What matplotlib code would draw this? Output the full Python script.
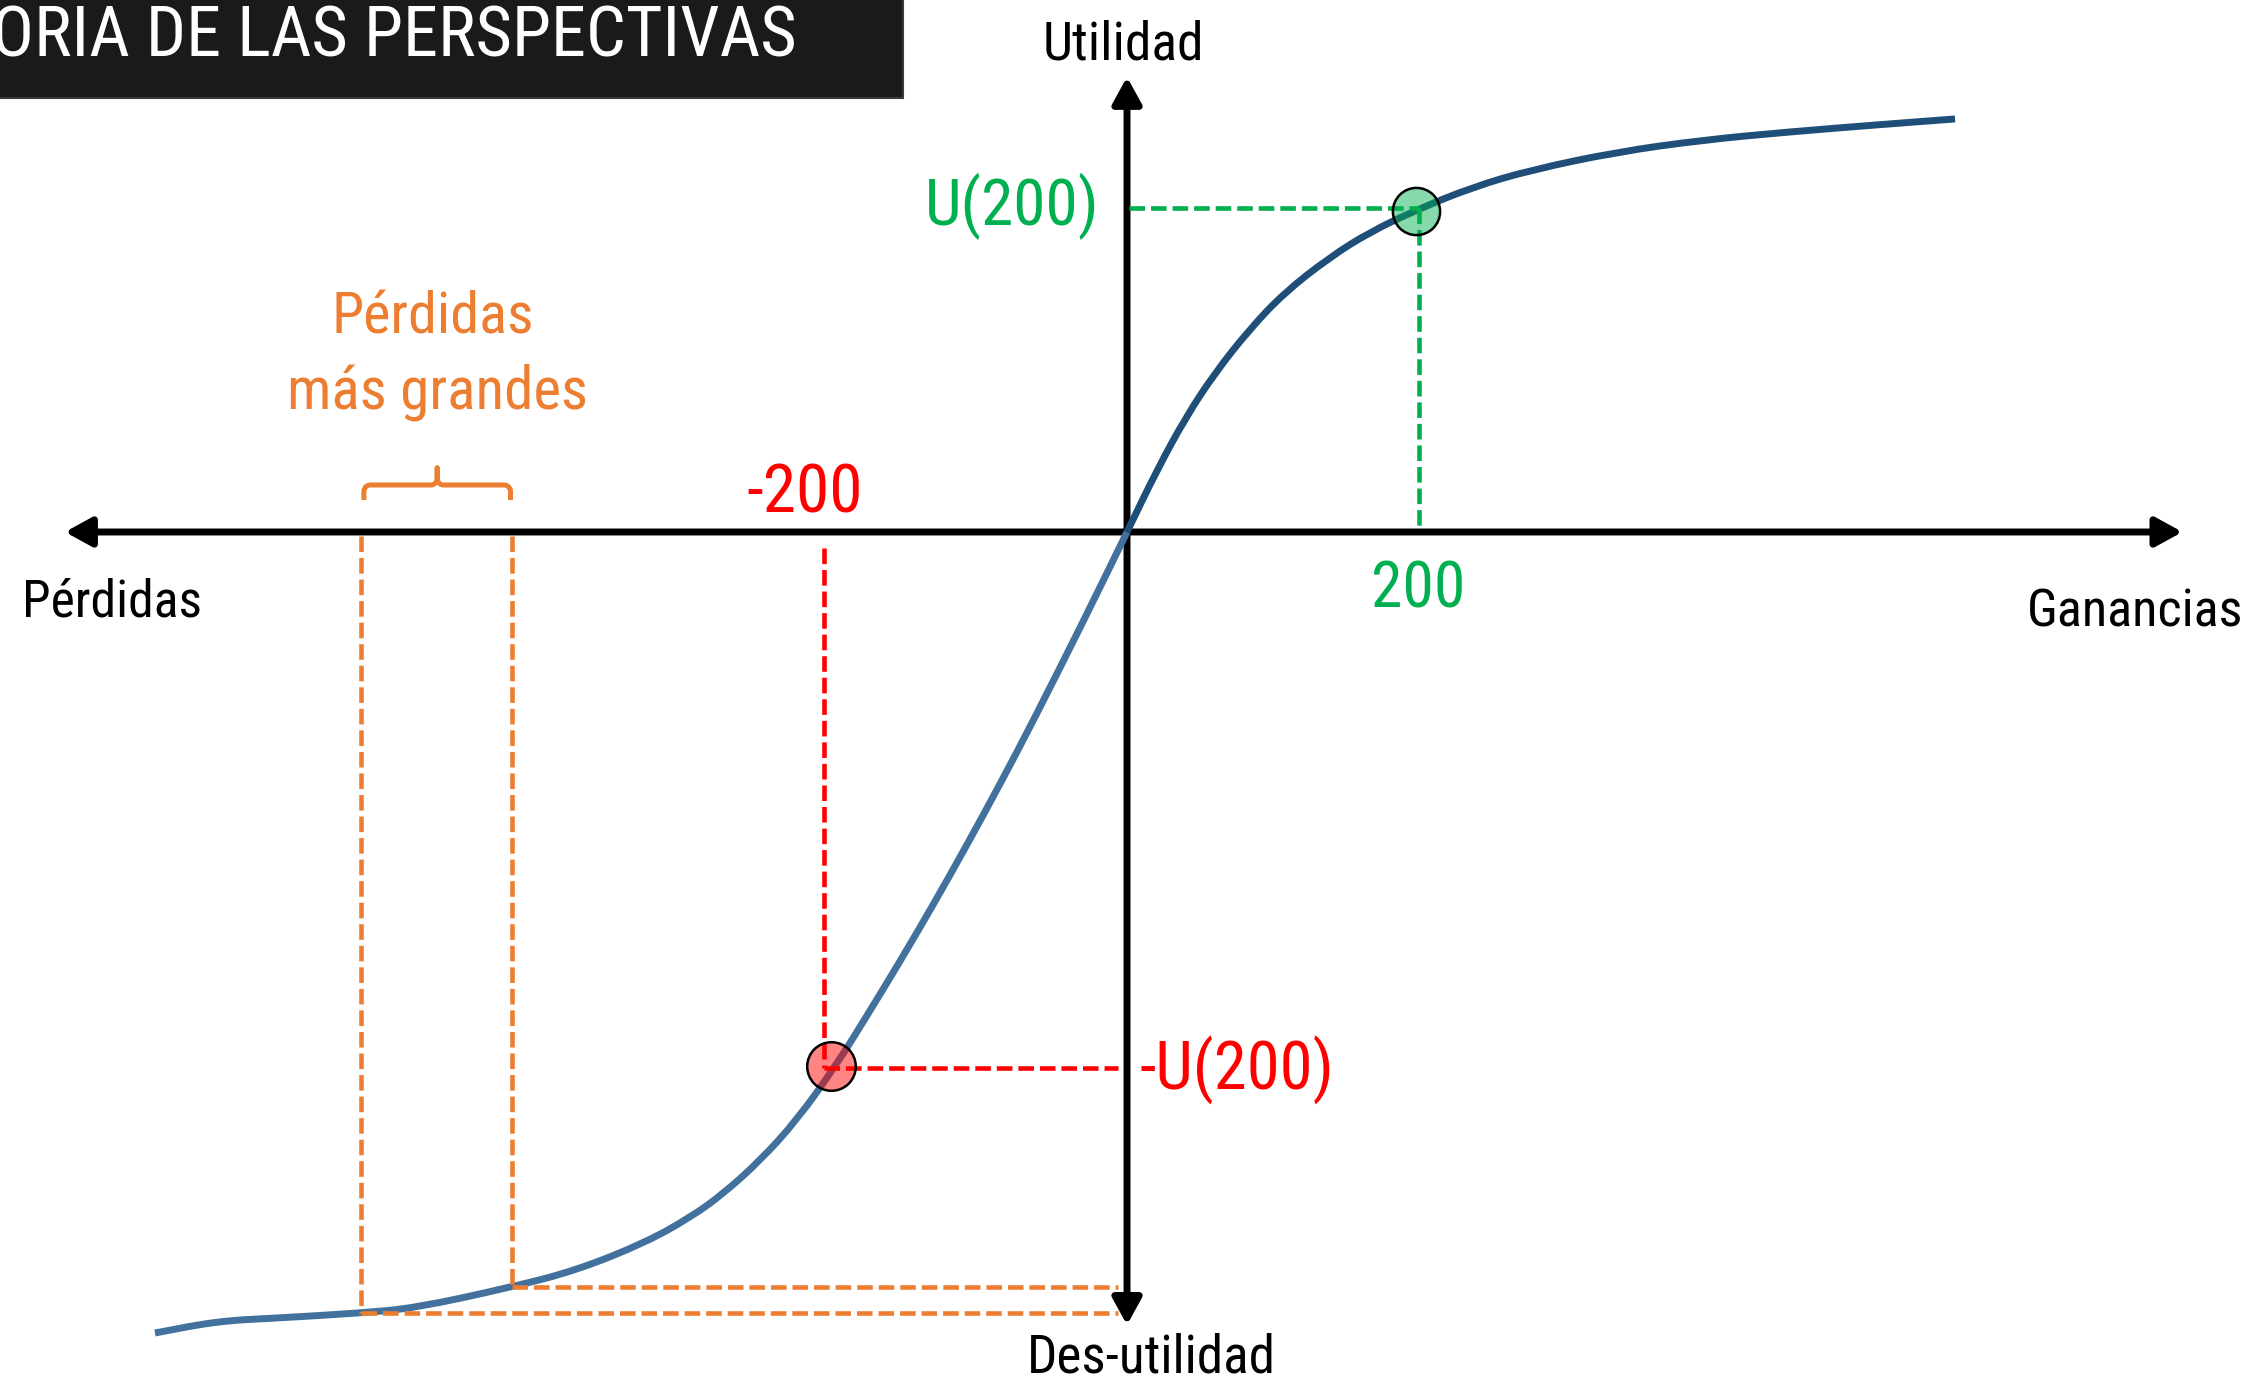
import os
import matplotlib
matplotlib.use("Agg")
import matplotlib.pyplot as plt
import matplotlib.font_manager as fm
from matplotlib.path import Path
from matplotlib.patches import PathPatch
import numpy as np

# ---------------- data ----------------
# value function (x: losses/gains, y: utility)
loss_x = [-674.2, -630.5, -588.9, -531.3, -493.9, -426.6, -382.2, -334.3, -302.4, -280.2,
          -254.6, -228.9, -201.8, -180.3, -157.5, -134.6, -111.0, -88.1, -65.2, -30.5, 0.0]
loss_y = [-555.6, -547.3, -545.2, -541.7, -538.3, -523.7, -512.2, -493.0, -475.1, -459.1,
          -436.1, -407.8, -369.9, -335.4, -297.9, -258.9, -217.0, -174.9, -131.3, -62.4, 0.0]
gain_x = [0.0, 20.8, 40.9, 61.0, 84.6, 108.9, 140.8, 168.6, 200.5, 240.0, 280.2, 339.9,
          399.5, 459.2, 518.8, 574.3]
gain_y = [0.0, 43.0, 79.8, 110.3, 140.1, 165.8, 190.7, 208.1, 223.3, 239.3, 251.1, 263.6,
          271.9, 277.5, 282.3, 286.5]

gain_pt = (200.6, 222.9)        # U(200)
gain_guide = (202.7, 224.5)
loss_pt = (-205.5, -370.4)      # -U(200)
loss_guide = (-210.2, -371.7)
big_losses_x = [-531.3, -426.6]
big_losses_y = [-541.7, -523.7]

title = "TEORIA DE LAS PERSPECTIVAS"
title_visible = "ORIA DE LAS PERSPECTIVAS"

GREEN = "#00B050"
RED = "#FF0000"
ORANGE = "#ED7D31"


# ---------------- font (narrow face if available) ----------------
def pick_font():
    bad = ('bold', 'italic', 'oblique', 'light', 'thin', 'black', 'medium', 'semi', 'extra', 'ultra', 'heavy')
    prefs = ['liberation sans narrow', 'arial narrow', 'roboto condensed', 'noto sans',
             'open sans', 'dejavu sans', '']
    found = []
    for f in fm.fontManager.ttflist:
        name = f.name.lower()
        fn = os.path.basename(f.fname).lower()
        narrow = ('narrow' in name or 'condensed' in name or 'narrow' in fn or 'condensed' in fn
                  or f.stretch == 'condensed')
        if not narrow or f.style != 'normal':
            continue
        if any(b in fn.replace('condensed', '').replace('narrow', '') for b in bad):
            continue
        for rank, p in enumerate(prefs):
            if p in name:
                found.append((rank, f.fname))
                break
    if found:
        found.sort()
        return fm.FontProperties(fname=found[0][1])
    return fm.FontProperties(family=['Liberation Sans', 'DejaVu Sans'])


FP = pick_font()

# ---------------- figure ----------------
fig = plt.figure(figsize=(22.49, 13.8), dpi=100)
ax = fig.add_axes([0, 0, 1, 1])
ax.set_xlim(-781.7, 778.2)
ax.set_ylim(-588.2, 369.0)
ax.axis('off')
renderer = fig.canvas.get_renderer()


def fit_text(x, y, s, target_px, nominal, measure=None, boost=1.07, **kw):
    t = ax.text(x, y, s, fontproperties=FP.copy(), **kw)
    m = t if measure is None else ax.text(0, 0, measure, fontproperties=FP.copy())
    m.set_fontsize(nominal)
    w = m.get_window_extent(renderer).width
    size = min(nominal * target_px / w * boost, nominal)
    t.set_fontsize(size)
    if measure is not None:
        m.remove()
    return t


# title box
ax.add_patch(plt.Rectangle((-795, 301), 639.6, 90, facecolor="#1A1A1A", edgecolor="#3a3a3a",
                           lw=1.5, zorder=5))
fit_text(-228.9, 329.7, title, 805, 57, measure=title_visible, boost=1.0, color='white',
         ha='right', va='baseline', zorder=6)

# axes arrows
arrow_kw = dict(arrowstyle='<|-|>,head_length=1.0,head_width=0.55', mutation_scale=16,
                lw=5.0, color='black', shrinkA=0, shrinkB=0)
ax.annotate('', xy=(732, 0), xytext=(-736.6, 0), arrowprops=arrow_kw, zorder=3)
ax.annotate('', xy=(0, 315.6), xytext=(0, -550), arrowprops=arrow_kw, zorder=3)


# curve (quadratic smoothing through the read points)
def smooth_path(xs, ys):
    p = np.c_[xs, ys]
    verts = [p[0], (p[0] + p[1]) / 2]
    codes = [Path.MOVETO, Path.LINETO]
    for i in range(1, len(p) - 1):
        verts += [p[i], (p[i] + p[i + 1]) / 2]
        codes += [Path.CURVE3, Path.CURVE3]
    verts.append(p[-1])
    codes.append(Path.LINETO)
    return Path(verts, codes)


ax.add_patch(PathPatch(smooth_path(loss_x, loss_y), fill=False, edgecolor="#41719C", lw=5.0,
                       capstyle='butt', zorder=4))
ax.add_patch(PathPatch(smooth_path(gain_x, gain_y), fill=False, edgecolor="#1F4E79", lw=5.0,
                       capstyle='butt', zorder=4))

dash = (0, (3.4, 1.3))
glw = 3.3
# green guides
ax.plot([1.5, gain_guide[0]], [gain_guide[1], gain_guide[1]], color=GREEN, lw=glw, ls=dash, zorder=4.5)
ax.plot([gain_guide[0], gain_guide[0]], [gain_guide[1], 2], color=GREEN, lw=glw, ls=dash, zorder=4.5)
# red guides
ax.plot([loss_guide[0], loss_guide[0]], [-11, loss_guide[1]], color=RED, lw=glw, ls=dash, zorder=4.5)
ax.plot([loss_guide[0], -6], [loss_guide[1], loss_guide[1]], color=RED, lw=glw, ls=dash, zorder=4.5)
# orange guides
for bx, by in zip(big_losses_x, big_losses_y):
    ax.plot([bx, bx], [-3, by], color=ORANGE, lw=glw, ls=dash, zorder=4.5)
    ax.plot([bx, -6], [by, by], color=ORANGE, lw=glw, ls=dash, zorder=4.5)

# brace over the bigger-loss interval
x0, x1 = big_losses_x[0] + 2, big_losses_x[1] - 1
xm = (x0 + x1) / 2
yb, yh, yt = 22.2, 32.6, 44.4
r = 4.5
t = np.linspace(0, np.pi / 2, 10)
left = np.c_[x0 + r - r * np.cos(t), yh - r + r * np.sin(t)]
right = np.c_[x1 - r + r * np.cos(t[::-1]), yh - r + r * np.sin(t[::-1])]
neck_l = np.c_[xm - r + r * np.sin(t), yh + r - r * np.cos(t)]
neck_r = np.c_[xm + r - r * np.sin(t[::-1]), yh + r - r * np.cos(t[::-1])]
brace = np.vstack([[[x0, yb]], left, neck_l, [[xm, yt]], [[xm, yh + r]], neck_r, right, [[x1, yb]]])
ax.plot(brace[:, 0], brace[:, 1], color=ORANGE, lw=3.6, zorder=4, solid_joinstyle='round',
        solid_capstyle='butt')

# points
ax.plot(*gain_pt, 'o', ms=34, mfc=(0, 0.69, 0.31, 0.48), mec='black', mew=1.8, zorder=6)
ax.plot(*loss_pt, 'o', ms=35, mfc=(1, 0, 0, 0.48), mec='black', mew=1.8, zorder=6)

# labels (x, baseline y, target width in px, nominal size)
fit_text(-2.4, 327.9, "Utilidad", 151, 40, ha='center', va='baseline')
fit_text(17.0, -583.3, "Des-utilidad", 233, 40, ha='center', va='baseline')
fit_text(-766.5, -58.7, "Pérdidas", 168, 43, ha='left', va='baseline')
fit_text(774.0, -65.9, "Ganancias", 203, 42, ha='right', va='baseline')
fit_text(-18.9, 212.9, "U(200)", 163, 48, ha='right', va='baseline', color=GREEN)
fit_text(201.8, -52.7, "200", 88, 50, ha='center', va='baseline', color=GREEN)
fit_text(-223.7, 13.2, "-200", 109, 50, ha='center', va='baseline', color=RED)
fit_text(9.0, -387.0, "-U(200)", 185, 48, ha='left', va='baseline', color=RED)
fit_text(-481.6, 138.0, "Pérdidas", 189, 46, ha='center', va='baseline', color=ORANGE)
fit_text(-478.0, 86.0, "más grandes", 281, 44, ha='center', va='baseline', color=ORANGE)

fig.savefig("out.png", dpi=100, facecolor='white')
